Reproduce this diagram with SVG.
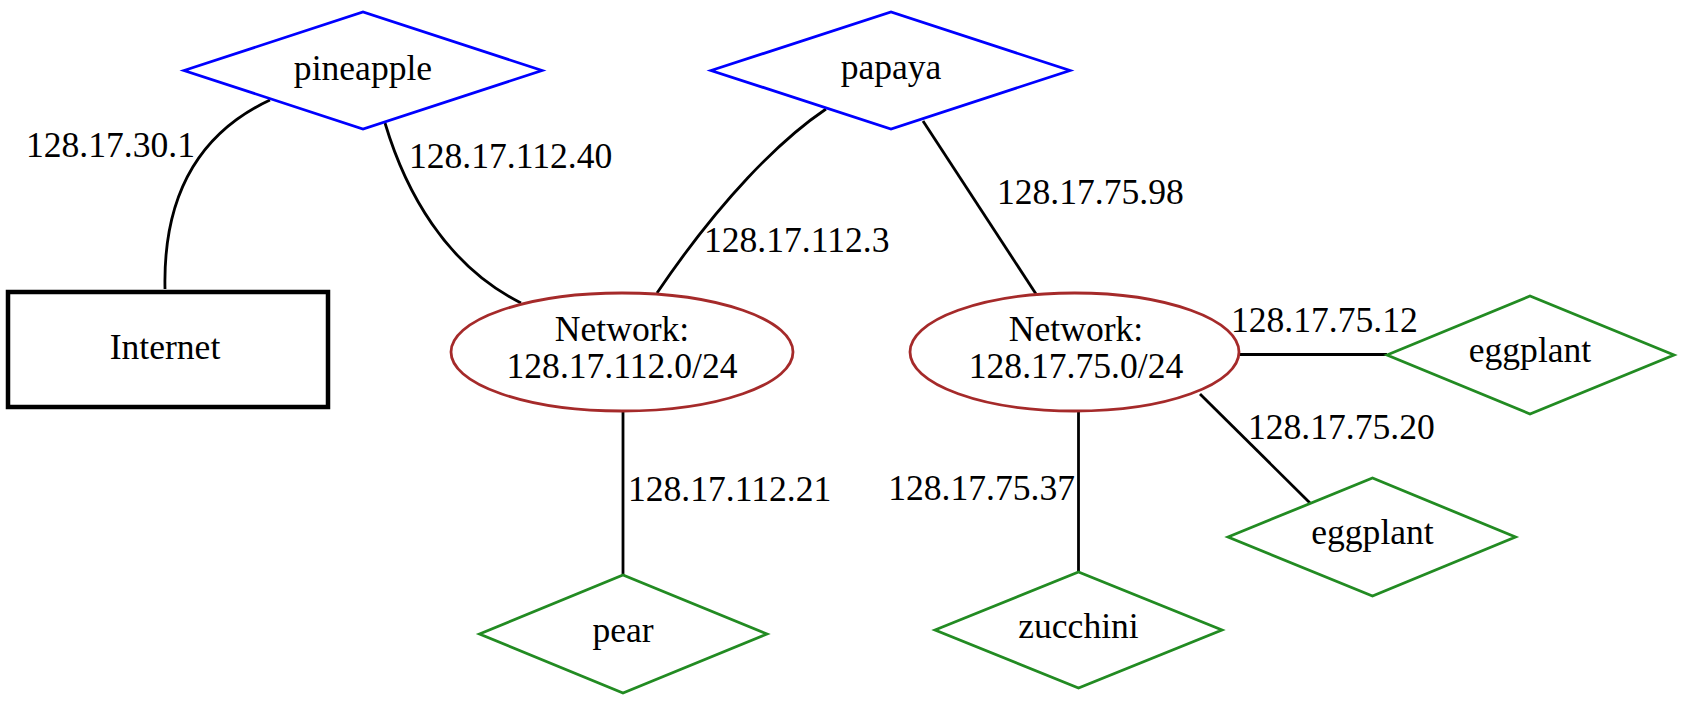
<svg xmlns="http://www.w3.org/2000/svg" width="1688" height="702" viewBox="0 0 1688 702">
<style>
text{font-family:"Liberation Serif","Times New Roman",serif;font-size:35.6px;fill:#000}
.c{text-anchor:middle}
.rt{fill:#fff;stroke:#0000ff;stroke-width:2.8}
.lf{fill:#fff;stroke:#228b22;stroke-width:2.8}
.net{fill:#fff;stroke:#a52a2a;stroke-width:2.8}
.e{fill:none;stroke:#000;stroke-width:2.8}
</style>
<rect width="1688" height="702" fill="#fff"/>
<g id="connectors">
<path class="e" d="M165,289 C163,200 195,135 270,100"/>
<path class="e" d="M385,123 C405,190 445,265 521,303"/>
<path class="e" d="M826,109 C780,140 720,200 657,293"/>
<path class="e" d="M923,121 L1036,294"/>
<path class="e" d="M623,412 L623,575"/>
<path class="e" d="M1078.5,412 L1078.5,572"/>
<path class="e" d="M1238,354.5 L1387,354.5"/>
<path class="e" d="M1200,394 L1310,503"/>
<text x="26" y="157">128.17.30.1</text>
<text x="409" y="168">128.17.112.40</text>
<text x="704" y="252">128.17.112.3</text>
<text x="997" y="204">128.17.75.98</text>
<text x="628" y="501">128.17.112.21</text>
<text x="1075" y="500" text-anchor="end">128.17.75.37</text>
<text x="1231" y="332">128.17.75.12</text>
<text x="1248" y="439">128.17.75.20</text>
</g>
<g id="pineapple">
<polygon class="rt" points="184,70.5 363,12 542,70.5 363,129"/>
<text class="c" x="363" y="80">pineapple</text>
</g>
<g id="papaya">
<polygon class="rt" points="711,70.5 891,12 1070,70.5 891,129"/>
<text class="c" x="891" y="79">papaya</text>
</g>
<g id="internet">
<rect x="8" y="292" width="320" height="115" fill="#fff" stroke="#000" stroke-width="4.5"/>
<text class="c" x="165" y="359">Internet</text>
</g>
<g id="net112">
<ellipse class="net" cx="622" cy="352" rx="171" ry="59"/>
<text class="c" x="622" y="341">Network:</text>
<text class="c" x="622" y="378">128.17.112.0/24</text>
</g>
<g id="net75">
<ellipse class="net" cx="1074.5" cy="352" rx="164.5" ry="59"/>
<text class="c" x="1076" y="341">Network:</text>
<text class="c" x="1076" y="378">128.17.75.0/24</text>
</g>
<g id="pear">
<polygon class="lf" points="479.5,634 623,575 767,634 623,693"/>
<text class="c" x="623" y="642">pear</text>
</g>
<g id="zucchini">
<polygon class="lf" points="935,630 1078.5,572 1222,630 1078.5,688"/>
<text class="c" x="1078.5" y="638">zucchini</text>
</g>
<g id="eggplant1">
<polygon class="lf" points="1387,355 1530,296 1674,355 1530,414"/>
<text class="c" x="1530" y="362">eggplant</text>
</g>
<g id="eggplant2">
<polygon class="lf" points="1228,537 1372.5,478 1515.5,537 1372.5,596"/>
<text class="c" x="1372.5" y="544">eggplant</text>
</g>
</svg>
